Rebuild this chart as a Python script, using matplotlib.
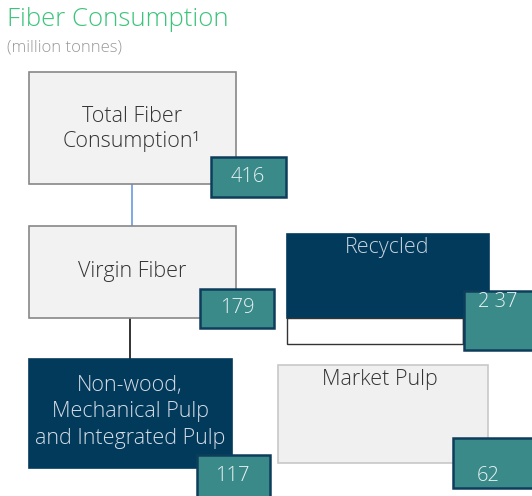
import matplotlib.pyplot as plt
from matplotlib.patches import Rectangle

# data
box_labels = ['Total Fiber\nConsumption¹', 'Virgin Fiber',
              'Non-wood,\nMechanical Pulp\nand Integrated Pulp', 'Recycled', 'Market Pulp']
box_values = [416, 179, 117, 237, 62]
value_texts = ['416', '179', '117', '2 37', '62']

FONT = 'Open Sans'
navy = '#023a5c'
teal = '#3a8a8a'
light = '#f2f2f2'
FS = 15.5

fig = plt.figure(figsize=(5.32, 4.96), dpi=100)
ax = fig.add_axes([0, 0, 1, 1])
ax.set_xlim(0, 532)
ax.set_ylim(496, 0)
ax.axis('off')

def box(x0, y0, x1, y1, fc, ec, lw=1.2, z=1):
    ax.add_patch(Rectangle((x0, y0), x1 - x0, y1 - y0, facecolor=fc, edgecolor=ec, lw=lw, zorder=z))

# title
ax.text(7, 20, 'Fiber Consumption', color='#3cc47a', fontsize=18.5, family=FONT,
        fontweight='light', va='center', ha='left')
ax.text(7, 47, '(million tonnes)', color='#999999', fontsize=12, family=FONT,
        fontweight='light', va='center', ha='left')

# connectors
ax.plot([132, 132], [184, 226], color='#6a9be0', lw=1.2, zorder=0)
ax.plot([130, 130], [318, 359], color='#111111', lw=1.2, zorder=0)

# Total
box(29, 72, 236, 184, light, '#888888')
ax.text(132, 129, box_labels[0], ha='center', va='center', fontsize=FS, family=FONT,
        fontweight='light', color='#333333', linespacing=1.25)
box(211, 157, 286, 197, teal, '#0e3d5c', lw=1.8, z=2)
ax.text(248, 177, value_texts[0], ha='center', va='center', fontsize=14.5, family=FONT,
        fontweight='light', color='#e8f2f2', zorder=3)

# Virgin
box(29, 226, 236, 318, light, '#888888')
ax.text(132, 271, box_labels[1], ha='center', va='center', fontsize=FS, family=FONT,
        fontweight='light', color='#333333')
box(200, 289, 274, 328, teal, '#0e3d5c', lw=1.8, z=2)
ax.text(237, 308, value_texts[1], ha='center', va='center', fontsize=14.5, family=FONT,
        fontweight='light', color='#e8f2f2', zorder=3)

# Non-wood
box(29, 359, 232, 468, navy, navy)
ax.text(130, 412, box_labels[2], ha='center', va='center', fontsize=FS, family=FONT,
        fontweight='light', color='#d5dde5', linespacing=1.35)
box(197, 455, 270, 500, teal, '#0e3d5c', lw=1.8, z=2)
ax.text(232, 476, value_texts[2], ha='center', va='center', fontsize=14.5, family=FONT,
        fontweight='light', color='#e8f2f2', zorder=3)

# Recycled
box(287, 234, 489, 318, navy, navy)
box(287, 318, 463, 344, 'white', '#333333', lw=1.0)
box(463, 318, 489, 344, 'white', '#333333', lw=1.0)
ax.text(387, 247, box_labels[3], ha='center', va='center', fontsize=FS, family=FONT,
        fontweight='light', color='#c8d2dc')
box(464, 291, 540, 350, teal, '#0e3d5c', lw=1.8, z=2)
ax.text(498, 302, value_texts[3], ha='center', va='center', fontsize=14.5, family=FONT,
        fontweight='light', color='#e8f2f2', zorder=3)

# Market Pulp
box(278, 365, 488, 463, '#f0f0f0', '#c8c8c8')
ax.text(380, 379, box_labels[4], ha='center', va='center', fontsize=FS, family=FONT,
        fontweight='light', color='#333333')
box(453, 438, 540, 488, teal, '#0e3d5c', lw=1.8, z=2)
ax.text(488, 476, value_texts[4], ha='center', va='center', fontsize=14.5, family=FONT,
        fontweight='light', color='#e8f2f2', zorder=3)

fig.savefig('out.png', dpi=100)
